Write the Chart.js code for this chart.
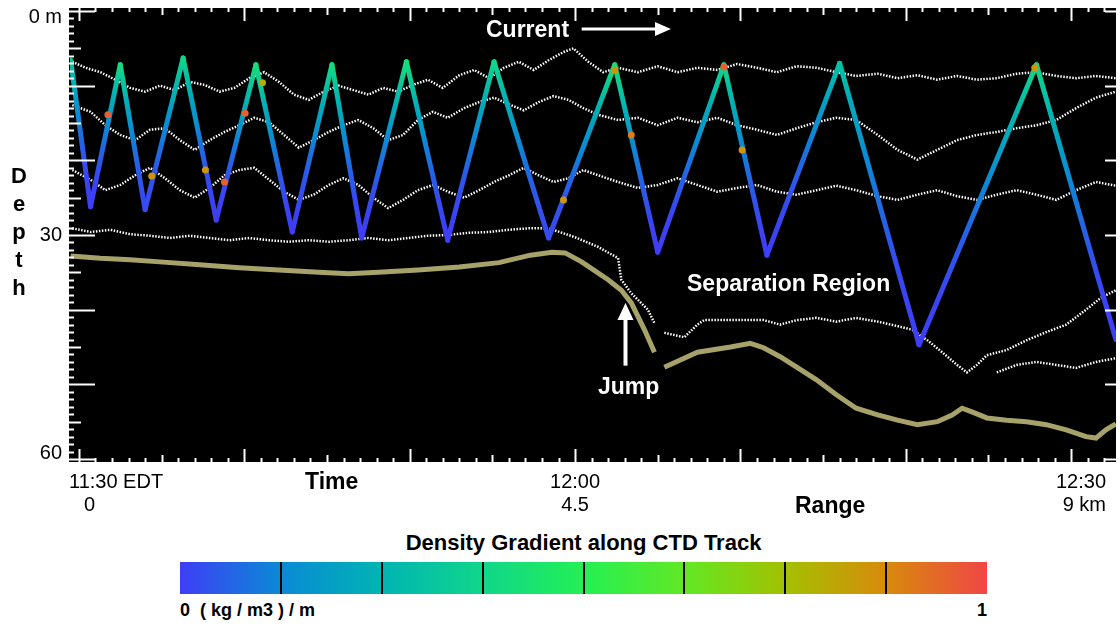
<!DOCTYPE html>
<html>
<head>
<meta charset="utf-8">
<script src="https://cdn.jsdelivr.net/npm/chart.js@4.4.0/dist/chart.umd.min.js"></script>
<style>
  body { margin: 0; background: #fff; font-family: "Liberation Sans", Arial, sans-serif; }
  #wrap { position: relative; width: 1120px; height: 627px; overflow: hidden; }
  #chart { position: absolute; left: 0; top: 0; }
  .lbl { position: absolute; line-height: 1; white-space: pre; font-weight: bold; color: #000; }
  .w { color: #fff; }
  #depth { left: 8px; top: 162px; width: 22px; text-align: center; font-size: 22px; line-height: 28px; }
  #cbar { position: absolute; left: 180px; top: 562px; width: 807px; height: 32px; }
  .div { position: absolute; top: 0; width: 2px; height: 32px; background: #000; }
</style>
</head>
<body>
<div id="wrap">
  <canvas id="chart" width="1120" height="520"></canvas>
  <div class="lbl" id="depth">D
e
p
t
h</div>
  <div class="lbl w" style="left:486px; top:18px; font-size:23px;">Current</div>
  <div class="lbl w" style="left:687px; top:272px; font-size:23px;">Separation Region</div>
  <div class="lbl w" style="left:598px; top:375px; font-size:23px;">Jump</div>
  <div class="lbl" style="left:305px; top:470px; font-size:23px;">Time</div>
  <div class="lbl" style="left:795px; top:494px; font-size:23px;">Range</div>
  <div class="lbl" style="left:180px; width:807px; text-align:center; top:532px; font-size:22px;">Density Gradient along CTD Track</div>
  <div id="cbar"></div>
  <div class="lbl" style="left:180px; top:601px; font-size:18px;">0  ( kg / m3 ) / m</div>
  <div class="lbl" style="left:960px; width:27px; text-align:right; top:601px; font-size:18px;">1</div>
</div>
<script>
// ---------------- DATA ----------------
// x: minutes after 11:30 EDT, y: depth (m)

const depthTickValues = [0, 30, 60];
const depthTickLabels = ["0 m", "30", "60"];
const timeTickValues = [0, 30, 60];
const timeTickLabels = ["11:30 EDT", "12:00", "12:30"];
const rangeTickLabels = ["0", "4.5", "9 km"];

// CTD tow-yo track vertices + density gradient at each vertex
const ctdTime  = [-0.5, 0.7, 2.5, 4.0, 6.3, 8.3, 10.7, 12.9, 15.3, 17.1, 19.8, 22.3, 25.1, 28.4, 32.4, 35.0, 39.0, 41.6, 46.0, 50.8, 57.9, 62.7];
const ctdDepth = [6.6, 26.2, 7.2, 26.6, 6.3, 28.0, 7.2, 29.6, 7.2, 30.4, 6.8, 30.7, 6.8, 30.4, 7.2, 32.3, 7.2, 32.7, 7.0, 44.7, 7.2, 44.0];
const ctdGrad  = [0.32, 0.0, 0.4, 0.02, 0.38, 0.0, 0.42, 0.0, 0.4, 0.0, 0.42, 0.0, 0.38, 0.02, 0.42, 0.0, 0.38, 0.0, 0.3, 0.0, 0.38, 0.0];

// strong-gradient spots along the track
const hotTime  = [1.75, 4.4, 7.65, 8.8, 10.05, 11.1, 29.3, 32.4, 33.4, 39.0, 40.1, 57.8];
const hotDepth = [13.9, 22.1, 21.3, 22.9, 13.7, 9.6, 25.3, 7.9, 16.6, 7.5, 18.6, 7.6];
const hotGrad  = [0.95, 0.85, 0.85, 0.95, 0.95, 0.8, 0.85, 0.85, 0.9, 0.95, 0.85, 0.85];

// isopycnals (white)
const isoATime  = [-0.4, 0.4, 1.3, 2.2, 3.1, 4.0, 4.9, 5.8, 6.7, 7.6, 8.5, 9.4, 10.3, 11.2, 12.1, 13.0, 13.9, 14.8, 15.7, 16.6, 17.5, 18.4, 19.3, 20.2, 21.1, 22.0, 23.0, 23.9, 24.8, 25.7, 26.6, 27.5, 28.4, 29.3, 29.9, 30.8, 31.7, 32.6, 33.8, 35.0, 36.2, 37.4, 38.6, 39.8, 41.0, 42.2, 43.4, 44.6, 45.8, 47.0, 48.3, 49.5, 50.7, 51.9, 53.1, 54.3, 55.5, 56.7, 57.9, 59.1, 60.3, 61.5, 62.7];
const isoADepth = [6.8, 7.6, 8.2, 9.2, 10.3, 10.8, 10.0, 10.6, 9.5, 9.9, 10.8, 10.3, 9.0, 8.2, 9.5, 11.2, 11.9, 10.8, 10.0, 10.6, 11.2, 10.3, 10.8, 9.9, 9.2, 10.3, 8.6, 7.9, 9.0, 7.6, 6.8, 7.9, 6.6, 5.5, 5.0, 6.8, 8.2, 7.6, 8.2, 7.4, 8.2, 7.6, 7.9, 7.1, 7.6, 8.2, 7.4, 7.6, 8.2, 8.7, 8.4, 9.0, 8.6, 9.2, 8.7, 9.2, 9.0, 8.4, 8.2, 8.7, 9.0, 8.7, 9.0];

const isoBTime  = [-0.4, 0.7, 1.6, 2.5, 3.4, 4.3, 5.2, 6.1, 7.0, 7.9, 8.8, 9.7, 10.6, 11.5, 12.4, 13.3, 14.2, 15.1, 16.0, 16.9, 17.8, 18.7, 19.6, 20.5, 21.4, 22.3, 23.3, 24.2, 25.1, 26.0, 26.9, 27.8, 28.7, 29.6, 30.5, 31.4, 32.6, 33.8, 35.0, 36.2, 37.4, 38.6, 39.8, 41.0, 42.2, 43.4, 44.6, 45.8, 47.0, 48.3, 49.5, 50.7, 51.9, 53.1, 54.3, 55.5, 56.7, 57.9, 59.1, 60.3, 61.5, 62.7];
const isoBDepth = [12.6, 13.5, 15.3, 16.6, 17.3, 15.9, 15.7, 17.3, 18.6, 17.3, 16.2, 15.3, 14.3, 14.9, 16.6, 18.3, 17.3, 16.2, 15.3, 14.6, 15.7, 17.3, 16.6, 14.6, 13.5, 14.3, 13.0, 12.2, 11.6, 12.5, 13.3, 12.2, 11.4, 11.9, 13.0, 13.9, 14.6, 14.3, 15.3, 14.3, 14.9, 14.3, 15.3, 15.9, 16.6, 15.7, 14.9, 14.3, 14.6, 16.6, 18.6, 19.9, 18.6, 17.3, 16.6, 16.2, 15.7, 15.3, 14.6, 13.0, 11.6, 10.8];

const isoCTime  = [-0.4, 0.7, 1.6, 2.5, 3.4, 4.3, 5.2, 6.1, 7.0, 7.9, 8.8, 9.7, 10.6, 11.5, 12.4, 13.3, 14.2, 15.1, 16.0, 16.9, 17.8, 18.7, 19.6, 20.5, 21.4, 22.3, 23.3, 24.2, 25.1, 26.0, 26.9, 27.8, 28.7, 29.6, 30.5, 31.4, 32.6, 33.8, 35.0, 36.2, 37.4, 38.6, 39.8, 41.0, 42.2, 43.4, 44.6, 45.8, 47.0, 48.3, 49.5, 50.7, 51.9, 53.1, 54.3, 55.5, 56.7, 57.9, 59.1, 60.3, 61.5, 62.7];
const isoCDepth = [21.3, 22.6, 24.0, 23.3, 22.0, 21.0, 22.4, 24.0, 25.0, 23.7, 22.0, 21.3, 21.0, 22.6, 24.2, 25.3, 24.6, 23.3, 22.4, 23.3, 25.0, 26.4, 25.3, 24.0, 23.3, 24.2, 25.0, 24.0, 22.9, 22.0, 21.0, 22.0, 22.9, 22.4, 21.3, 22.0, 22.9, 23.7, 23.3, 22.4, 23.3, 24.2, 23.7, 23.3, 24.2, 24.6, 24.0, 23.4, 24.0, 24.8, 25.3, 24.6, 24.0, 24.8, 25.3, 24.6, 24.0, 24.6, 25.3, 24.0, 22.9, 23.4];

const isoDTime  = [-0.4, 0.7, 1.9, 3.1, 4.3, 5.5, 6.7, 7.9, 9.1, 10.3, 11.5, 12.7, 13.9, 15.1, 16.3, 17.5, 18.7, 19.9, 21.1, 22.3, 23.6, 24.8, 26.0, 27.2, 28.4, 30.0, 31.4, 32.6, 32.8, 33.4, 34.4, 34.8, 35.1, 35.4, 36.6, 37.4, 37.8, 39.4, 41.4, 42.4, 43.4, 44.6, 45.8, 47.0, 48.3, 49.5, 50.4, 51.3, 52.2, 53.1, 53.7, 54.3, 54.9, 56.1, 57.3, 58.5, 59.7, 60.9, 61.8, 62.7];
const isoDDepth = [29.1, 29.6, 29.3, 29.9, 30.1, 30.4, 30.1, 30.4, 30.7, 30.4, 30.7, 30.9, 30.7, 30.9, 30.7, 30.4, 30.7, 30.4, 30.1, 30.0, 29.7, 29.6, 29.3, 29.1, 29.1, 30.3, 31.6, 33.1, 36.0, 37.8, 40.0, 41.8, null, 43.1, 43.7, 42.0, 41.4, 41.4, 41.4, 42.0, 41.4, 41.1, 41.6, 41.1, 41.6, 42.2, 42.7, 44.1, 45.7, 47.4, 48.4, 47.4, 46.1, 45.4, 44.1, 43.0, 42.0, 40.0, 38.4, 37.4];

const isoETime  = [55.5, 56.7, 57.9, 59.1, 60.3, 61.5, 62.7];
const isoEDepth = [48.4, 47.4, 47.0, 47.4, 47.8, 47.0, 46.5];

// bottom / acoustic layer (olive)
const bottomTime  = [-0.5, 1.3, 3.1, 4.9, 7.3, 9.7, 12.1, 14.5, 16.3, 18.1, 20.5, 23.0, 25.4, 27.3, 28.6, 29.4, 30.4, 32.0, 32.8, 33.4, 34.2, 34.8, 35.1, 35.4, 36.4, 37.4, 39.4, 40.6, 41.4, 42.4, 43.4, 44.6, 45.8, 47.0, 48.3, 49.5, 50.7, 51.9, 52.8, 53.4, 54.0, 54.9, 56.1, 57.3, 58.5, 59.7, 60.9, 61.5, 62.1, 62.7];
const bottomDepth = [32.8, 33.1, 33.3, 33.6, 34.0, 34.4, 34.7, 35.0, 35.2, 35.0, 34.7, 34.3, 33.7, 32.7, 32.3, 32.4, 33.6, 36.0, 37.4, 39.1, 42.7, 45.7, null, 47.7, 46.7, 45.7, 45.0, 44.5, 45.1, 46.3, 47.7, 49.4, 51.4, 53.2, 54.1, 54.8, 55.4, 55.0, 54.1, 53.2, 53.7, 54.5, 54.8, 55.0, 55.4, 56.1, 57.0, 57.2, 56.1, 55.3];

// colour bar divisions
const colorbarSteps = 8;

// ---------------- COLOUR MAP ----------------
const cmapStops = [
    [0.0, [62, 62, 245]],
    [0.125, [10, 138, 214]],
    [0.25, [0, 180, 178]],
    [0.375, [16, 214, 138]],
    [0.5, [36, 240, 84]],
    [0.625, [98, 232, 36]],
    [0.75, [164, 192, 0]],
    [0.875, [216, 138, 12]],
    [1.0, [240, 70, 70]],
];

function cmap(g) {
    g = Math.max(0, Math.min(1, g));
    for (let i = 1; i < cmapStops.length; i++) {
        const [g1, c1] = cmapStops[i];
        const [g0, c0] = cmapStops[i - 1];
        if (g <= g1) {
            const f = (g - g0) / (g1 - g0);
            const c = c0.map((v, k) => Math.round(v + (c1[k] - v) * f));
            return `rgb(${c[0]},${c[1]},${c[2]})`;
        }
    }
    return "rgb(240,70,70)";
}

// colour bar
const cbar = document.getElementById("cbar");
cbar.style.background = "linear-gradient(to right, " +
    cmapStops.map(([g, c]) => `rgb(${c[0]},${c[1]},${c[2]}) ${g * 100}%`).join(", ") + ")";
for (let i = 1; i < colorbarSteps; i++) {
    const d = document.createElement("div");
    d.className = "div";
    d.style.left = (i / colorbarSteps * 807 - 1) + "px";
    cbar.appendChild(d);
}

const pts = (ts, ds) => ts.map((t, i) => ({ x: t, y: ds[i] }));

const canvas = document.getElementById("chart");
const cctx = canvas.getContext("2d");

// ---------------- FRAME / TICKS ----------------
const frame = {
    id: "frame",
    beforeDraw(chart) {
        const { ctx, chartArea: a } = chart;
        ctx.save();
        ctx.fillStyle = "#000";
        ctx.fillRect(a.left - 1, a.top - 3, a.right - a.left + 1, a.bottom - a.top + 6);
        ctx.restore();
    },
    afterDatasetsDraw(chart) {
        const { ctx, chartArea: a, scales: { x, y } } = chart;
        ctx.save();
        ctx.strokeStyle = "#fff";
        ctx.lineWidth = 2;
        ctx.beginPath();
        const top = a.top - 3, bot = a.bottom + 3, left = a.left - 1;
        for (let m = 0; m <= 62; m++) {
            const px = Math.round(x.getPixelForValue(m)) + 0.5;
            const len = m % 10 === 0 ? 13 : m % 5 === 0 ? 7 : 4;
            ctx.moveTo(px, bot); ctx.lineTo(px, bot - len);
            ctx.moveTo(px, top); ctx.lineTo(px, top + len);
        }
        for (let d = 0; d <= 60; d++) {
            const py = Math.round(y.getPixelForValue(d)) + 0.5;
            const len = d % 10 === 0 ? 26 : d % 5 === 0 ? 12 : 5;
            ctx.moveTo(left, py); ctx.lineTo(left + len, py);
            if (d % 10 === 0) { ctx.moveTo(a.right, py); ctx.lineTo(a.right - 11, py); }
        }
        ctx.stroke();

        // current arrow
        const cy = y.getPixelForValue(2.4);
        const cx0 = x.getPixelForValue(30.4), cx1 = x.getPixelForValue(35.8);
        ctx.lineWidth = 3;
        ctx.beginPath(); ctx.moveTo(cx0, cy); ctx.lineTo(cx1 - 12, cy); ctx.stroke();
        ctx.fillStyle = "#fff";
        ctx.beginPath(); ctx.moveTo(cx1, cy); ctx.lineTo(cx1 - 16, cy - 7); ctx.lineTo(cx1 - 16, cy + 7); ctx.closePath(); ctx.fill();

        // jump arrow
        const jx = x.getPixelForValue(33.05);
        const jy0 = y.getPixelForValue(47.5), jy1 = y.getPixelForValue(39.1);
        ctx.lineWidth = 4;
        ctx.beginPath(); ctx.moveTo(jx, jy0); ctx.lineTo(jx, jy1 + 12); ctx.stroke();
        ctx.beginPath(); ctx.moveTo(jx, jy1); ctx.lineTo(jx - 8, jy1 + 17); ctx.lineTo(jx + 8, jy1 + 17); ctx.closePath(); ctx.fill();
        ctx.restore();
    },
    afterDraw(chart) {
        const { ctx, chartArea: a, scales: { x, y } } = chart;
        ctx.save();
        ctx.fillStyle = "#000";
        ctx.font = '20px "Liberation Sans", Arial, sans-serif';
        ctx.textBaseline = "middle";
        ctx.textAlign = "right";
        depthTickValues.forEach((d, i) => {
            const py = Math.min(Math.max(y.getPixelForValue(d), a.top + 6), a.bottom - 6);
            ctx.fillText(depthTickLabels[i], 62, py);
        });
        ctx.textAlign = "left";
        const last = timeTickValues.length - 1;
        timeTickValues.forEach((t, i) => {
            const px = x.getPixelForValue(t);
            const w1 = ctx.measureText(timeTickLabels[i]).width;
            const w2 = ctx.measureText(rangeTickLabels[i]).width;
            let x1, x2;
            if (i === 0) { x1 = a.left - 1; x2 = px + 5; }
            else if (i === last) { x1 = a.right - 10 - w1; x2 = a.right - 10 - w2; }
            else { x1 = px - w1 / 2; x2 = px - w2 / 2; }
            ctx.fillText(timeTickLabels[i], x1, 482);
            ctx.fillText(rangeTickLabels[i], x2, 505);
        });
        ctx.restore();
    }
};

// ---------------- CHART ----------------
new Chart(canvas, {
    type: "line",
    data: {
        datasets: [
            ...[[isoATime, isoADepth], [isoBTime, isoBDepth], [isoCTime, isoCDepth], [isoDTime, isoDDepth], [isoETime, isoEDepth]]
                .map(([t, d]) => ({
                    data: pts(t, d),
                    borderColor: "#fff",
                    borderWidth: 2.5,
                    borderDash: [1.5, 1.5],
                    pointRadius: 0,
                    tension: 0,
                    order: 4,
                })),
            {
                data: pts(bottomTime, bottomDepth),
                borderColor: "rgb(166, 162, 106)",
                borderWidth: 5,
                pointRadius: 0,
                tension: 0,
                order: 3,
            },
            {
                data: pts(ctdTime, ctdDepth),
                borderWidth: 5,
                borderCapStyle: "round",
                borderJoinStyle: "round",
                pointRadius: 0,
                order: 2,
                segment: {
                    borderColor: (c) => {
                        const g0 = ctdGrad[c.p0DataIndex], g1 = ctdGrad[c.p1DataIndex];
                        const lo = Math.min(g0, g1), hi = Math.max(g0, g1);
                        const gr = cctx.createLinearGradient(c.p0.x, c.p0.y, c.p1.x, c.p1.y);
                        for (let i = 0; i <= 8; i++) {
                            const s = i / 8;
                            const f = g0 > g1 ? 1 - s : s;   // fraction toward high-gradient end
                            gr.addColorStop(s, cmap(lo + (hi - lo) * f * f));
                        }
                        return gr;
                    },
                },
            },
            {
                data: pts(hotTime, hotDepth),
                showLine: false,
                pointRadius: 3.5,
                pointBorderWidth: 0,
                pointBackgroundColor: hotGrad.map(cmap),
                order: 1,
            },
        ],
    },
    options: {
        responsive: false,
        animation: false,
        layout: { padding: { left: 70, right: 0, top: 11, bottom: 61 } },
        scales: {
            x: { type: "linear", min: -0.54, max: 62.71, display: false },
            y: { type: "linear", min: 0, max: 60, reverse: true, display: false },
        },
        plugins: {
            legend: { display: false },
            tooltip: { enabled: false },
        },
    },
    plugins: [frame],
});
</script>
</body>
</html>
